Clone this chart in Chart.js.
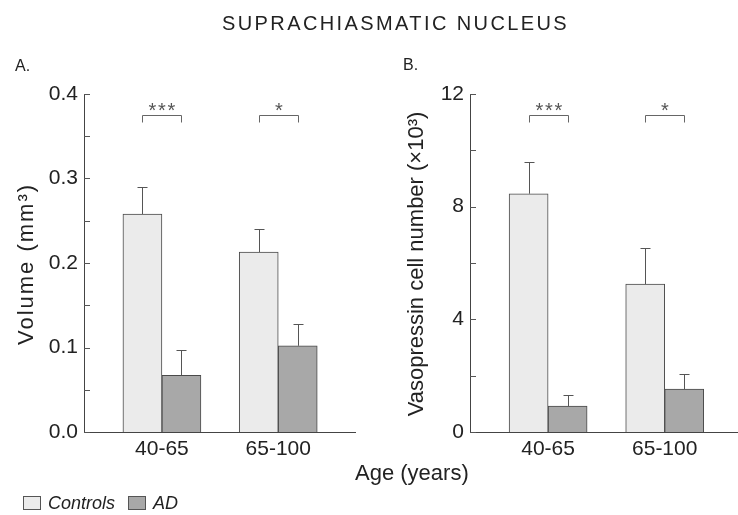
<!DOCTYPE html>
<html>
<head>
<meta charset="utf-8">
<script src="https://cdn.jsdelivr.net/npm/chart.js@4.4.1/dist/chart.umd.min.js"></script>
<style>
body { margin: 0; background: #fff; }
#wrap { position: relative; width: 738px; height: 515px; overflow: hidden; font-family: "Liberation Sans", Arial, sans-serif; color: #222; }
.txt { position: absolute; white-space: nowrap; line-height: 1; }
canvas { position: absolute; top: 0; }
.box { position: absolute; width: 16px; height: 12px; border: 1px solid #555; }
</style>
</head>
<body>
<div id="wrap">
  <canvas id="canvas1" width="370" height="515" style="left:0px"></canvas>
  <canvas id="canvas2" width="368" height="515" style="left:370px"></canvas>

  <div class="txt" style="left:222px; top:13px; font-size:20px; letter-spacing:2.4px;">SUPRACHIASMATIC NUCLEUS</div>
  <div class="txt" style="left:15px; top:58px; font-size:16px;">A.</div>
  <div class="txt" style="left:403px; top:57px; font-size:16px;">B.</div>
  <div class="txt" style="left:355px; top:462px; font-size:22px;">Age (years)</div>

  <div class="box" style="left:23px; top:496px; background:#ebebeb;"></div>
  <div class="txt" style="left:48px; top:494px; font-size:18px; font-style:italic;">Controls</div>
  <div class="box" style="left:128px; top:496px; background:#a8a8a8;"></div>
  <div class="txt" style="left:153px; top:494px; font-size:18px; font-style:italic;">AD</div>
</div>

<script>
"use strict";

let ageGroups = ["40-65", "65-100"];
let sigLabels = ["***", "*"];

// A: SCN volume, mm3 (mean and SEM)
let volControls = [0.258, 0.213];
let volControlsSem = [0.032, 0.027];
let volAD = [0.067, 0.102];
let volADSem = [0.030, 0.026];
let volTicks = [0, 0.1, 0.2, 0.3, 0.4];

// B: vasopressin cell number, x10^3 (mean and SEM)
let avpControls = [8.46, 5.25];
let avpControlsSem = [1.14, 1.27];
let avpAD = [0.92, 1.52];
let avpADSem = [0.41, 0.54];
let avpTicks = [0, 4, 8, 12];

let fontFamily = "'Liberation Sans', Arial, sans-serif";

// SEM whiskers, upward only
const errorBars = {
    id: "errorBars",
    afterDatasetsDraw(chart) {
        let ctx = chart.ctx;
        let ys = chart.scales.y;
        ctx.save();
        ctx.strokeStyle = "#555";
        ctx.lineWidth = 1;
        chart.data.datasets.forEach((ds, i) => {
            let meta = chart.getDatasetMeta(i);
            meta.data.forEach((bar, j) => {
                let top = Math.round(ys.getPixelForValue(ds.data[j].y + ds.sem[j])) + 0.5;
                let x = Math.round(bar.x) + 0.5;
                ctx.beginPath();
                ctx.moveTo(x, bar.y);
                ctx.lineTo(x, top);
                ctx.moveTo(x - 5, top);
                ctx.lineTo(x + 5, top);
                ctx.stroke();
            });
        });
        ctx.restore();
    }
};

// short tick marks on the inner side of the y axis
const innerTicks = {
    id: "innerTicks",
    afterDraw(chart, args, o) {
        let ctx = chart.ctx;
        let ys = chart.scales.y;
        let left = chart.chartArea.left;
        ctx.save();
        ctx.strokeStyle = "#555";
        ctx.lineWidth = 1;
        ctx.beginPath();
        for (let k = 0; k * o.step <= ys.max + 1e-9; k++) {
            let y = Math.round(ys.getPixelForValue(k * o.step)) + 0.5;
            ctx.moveTo(left, y);
            ctx.lineTo(left + 6, y);
        }
        ctx.stroke();
        ctx.restore();
    }
};

// significance brackets between the two bars of each group
const brackets = {
    id: "brackets",
    afterDraw(chart, args, o) {
        let ctx = chart.ctx;
        let ys = chart.scales.y;
        let m0 = chart.getDatasetMeta(0);
        let m1 = chart.getDatasetMeta(1);
        let y = Math.round(ys.getPixelForValue(o.level)) + 0.5;
        ctx.save();
        ctx.strokeStyle = "#666";
        ctx.fillStyle = "#555";
        ctx.lineWidth = 1;
        ctx.font = "20px " + fontFamily;
        ctx.textAlign = "center";
        ctx.textBaseline = "alphabetic";
        m0.data.forEach((bar, j) => {
            let x1 = Math.round(bar.x) + 0.5;
            let x2 = Math.round(m1.data[j].x) + 0.5;
            ctx.beginPath();
            ctx.moveTo(x1, y + 7);
            ctx.lineTo(x1, y);
            ctx.lineTo(x2, y);
            ctx.lineTo(x2, y + 7);
            ctx.stroke();
            let stars = sigLabels[j];
            let cx = (x1 + x2) / 2;
            for (let s = 0; s < stars.length; s++) {
                ctx.fillText(stars[s], cx + (s - (stars.length - 1) / 2) * 9.5, y + 1.5);
            }
        });
        ctx.restore();
    }
};

// rotated y axis title, drawn with a little letter spacing
const sideTitle = {
    id: "sideTitle",
    afterDraw(chart, args, o) {
        let ctx = chart.ctx;
        let ca = chart.chartArea;
        ctx.save();
        ctx.translate(o.x, (ca.top + ca.bottom) / 2 + 1);
        ctx.rotate(-Math.PI / 2);
        ctx.font = "22px " + fontFamily;
        ctx.letterSpacing = o.spacing + "px";
        ctx.fillStyle = "#222";
        ctx.textAlign = "center";
        ctx.textBaseline = "middle";
        ctx.fillText(o.text, 0, 0);
        ctx.restore();
    }
};

function barSets(ctrl, ctrlSem, ad, adSem) {
    return [
        {
            label: "Controls",
            data: ctrl.map((v, i) => ({ x: i + 1, y: v })),
            sem: ctrlSem,
            backgroundColor: "#ebebeb",
            borderColor: "#4a4a4a",
            borderWidth: 1,
            barThickness: 39,
        },
        {
            label: "AD",
            data: ad.map((v, i) => ({ x: i + 1, y: v })),
            sem: adSem,
            backgroundColor: "#a8a8a8",
            borderColor: "#4a4a4a",
            borderWidth: 1,
            barThickness: 39,
        },
    ];
}

function xAxis(min, max) {
    return {
        type: "linear",
        min: min,
        max: max,
        offset: false,
        grid: { display: false, drawTicks: false },
        border: { display: true, color: "#444", width: 1 },
        afterBuildTicks: (s) => { s.ticks = ageGroups.map((g, i) => ({ value: i + 1 })); },
        ticks: {
            callback: (v) => ageGroups[v - 1],
            color: "#222",
            font: { size: 21, family: fontFamily },
            padding: 5,
            autoSkip: false,
            maxRotation: 0,
        },
        afterFit: (s) => { s.height = 83; },
    };
}

function yAxis(ticks, fmt, width) {
    return {
        min: ticks[0],
        max: ticks[ticks.length - 1],
        grid: { display: false, drawTicks: false },
        border: { display: true, color: "#444", width: 1 },
        afterBuildTicks: (s) => { s.ticks = ticks.map((v) => ({ value: v })); },
        ticks: {
            callback: fmt,
            color: "#222",
            font: { size: 21, family: fontFamily },
            padding: 6,
        },
        afterFit: (s) => { s.width = width; },
    };
}

let canvas1 = document.querySelector("#canvas1");
let canvas2 = document.querySelector("#canvas2");

// chart A
let opts = {
    type: "bar",
    data: { datasets: barSets(volControls, volControlsSem, volAD, volADSem) },
    options: {
        responsive: false,
        animation: false,
        devicePixelRatio: 1,
        layout: { padding: { top: 94, right: 15, bottom: 0, left: 0 } },
        scales: {
            x: xAxis(0.33, 2.66),
            y: yAxis(volTicks, (v) => v.toFixed(1), 84),
        },
        plugins: {
            legend: { display: false },
            tooltip: { enabled: false },
            innerTicks: { step: 0.05 },
            brackets: { level: 0.375 },
            sideTitle: { text: "Volume (mm³)", x: 27, spacing: 2 },
        },
    },
    plugins: [errorBars, innerTicks, brackets, sideTitle],
};
let chart1 = new Chart(canvas1, opts);

// chart B
opts = {
    type: "bar",
    data: { datasets: barSets(avpControls, avpControlsSem, avpAD, avpADSem) },
    options: {
        responsive: false,
        animation: false,
        devicePixelRatio: 1,
        layout: { padding: { top: 94, right: 1, bottom: 0, left: 0 } },
        scales: {
            x: xAxis(0.33, 2.62),
            y: yAxis(avpTicks, (v) => String(v), 100),
        },
        plugins: {
            legend: { display: false },
            tooltip: { enabled: false },
            innerTicks: { step: 2 },
            brackets: { level: 11.25 },
            sideTitle: { text: "Vasopressin cell number (×10³)", x: 47, spacing: 0 },
        },
    },
    plugins: [errorBars, innerTicks, brackets, sideTitle],
};
let chart2 = new Chart(canvas2, opts);
</script>
</body>
</html>
